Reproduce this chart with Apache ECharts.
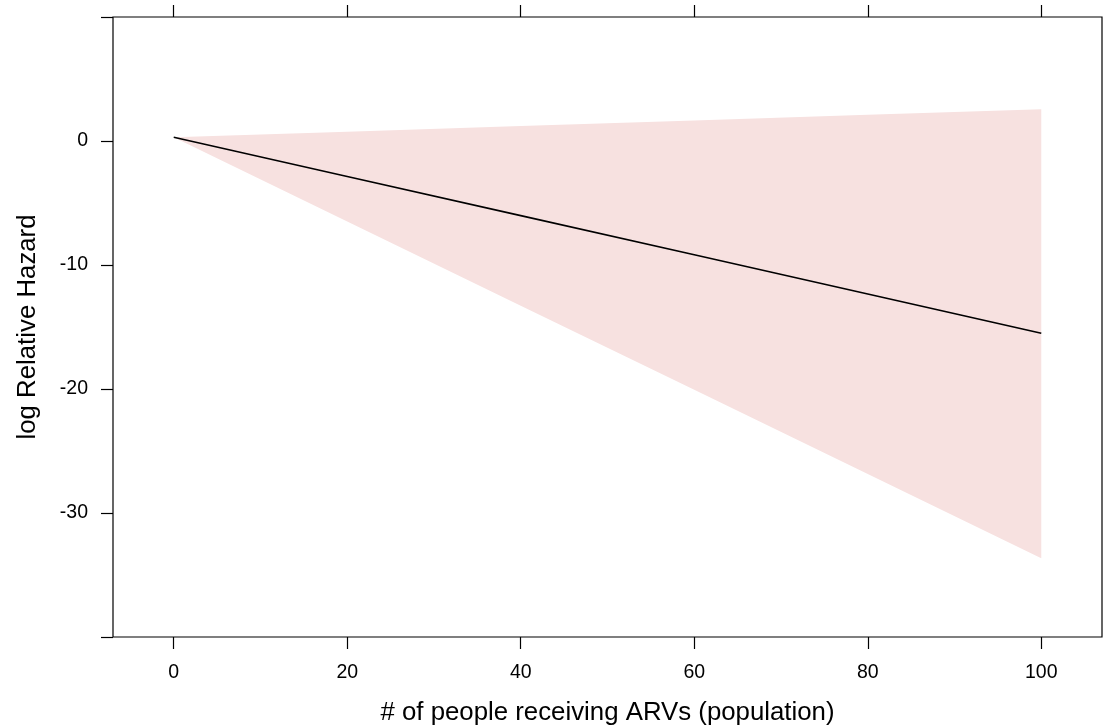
<!DOCTYPE html>
<html>
<head>
<meta charset="utf-8">
<script src="https://cdn.jsdelivr.net/npm/echarts@6/dist/echarts.min.js"></script>
<style>
html,body{margin:0;padding:0;background:#fff;}
#chart{width:1103px;height:728px;}
</style>
</head>
<body>
<div id="chart"></div>
<script>
// Data
const xValues = [0, 20, 40, 60, 80, 100];
const estimate = [0.3, -2.86, -6.02, -9.18, -12.34, -15.5];
const upperCI = [0.3, 0.75, 1.2, 1.66, 2.11, 2.56];
const lowerCI = [0.3, -6.49, -13.28, -20.07, -26.86, -33.65];
const xTicks = [0, 20, 40, 60, 80, 100];
const yTicks = [10, 0, -10, -20, -30, -40];
const yLabels = [0, -10, -20, -30];
const xTitle = '# of people receiving ARVs (population)';
const yTitle = 'log Relative Hazard';

const chart = echarts.init(document.getElementById('chart'), null, {renderer: 'canvas'});
const FONT = 'Liberation Sans, Arial, sans-serif';

const bandPoly = xValues.map((x, i) => [x, upperCI[i]])
  .concat(xValues.map((x, i) => [x, lowerCI[i]]).reverse());

chart.setOption({
  animation: false,
  backgroundColor: '#fff',
  grid: {
    left: 113, right: 1, top: 17, bottom: 91,
    containLabel: false, outerBoundsMode: 'none',
    show: true, borderColor: '#000', borderWidth: 1.2, backgroundColor: 'transparent'
  },
  xAxis: [{
    type: 'value', position: 'bottom', min: -7, max: 107,
    splitLine: {show: false},
    axisLine: {show: false, onZero: false},
    axisTick: {show: true, inside: false, length: 12, customValues: xTicks, lineStyle: {color: '#000', width: 1.2}},
    axisLabel: {show: true, customValues: xTicks, margin: 26, fontSize: 19.5, color: '#000', fontFamily: FONT},
    name: xTitle, nameLocation: 'middle', nameGap: 63,
    nameTextStyle: {fontSize: 25.8, color: '#000', fontFamily: FONT}
  }, {
    type: 'value', position: 'top', min: -7, max: 107,
    splitLine: {show: false},
    axisLine: {show: false, onZero: false},
    axisTick: {show: true, inside: false, length: 12, customValues: xTicks, lineStyle: {color: '#000', width: 1.2}},
    axisLabel: {show: false}
  }],
  yAxis: [{
    type: 'value', position: 'left', min: -40, max: 10,
    splitLine: {show: false},
    axisLine: {show: false, onZero: false},
    axisTick: {show: true, inside: false, length: 12, customValues: yTicks, lineStyle: {color: '#000', width: 1.2}},
    axisLabel: {show: true, customValues: yLabels, margin: 25, fontSize: 19.5, color: '#000', fontFamily: FONT},
    name: yTitle, nameLocation: 'middle', nameGap: 72, nameRotate: 90,
    nameTextStyle: {fontSize: 25.8, color: '#000', fontFamily: FONT}
  }],
  series: [{
    type: 'custom',
    xAxisIndex: 0, yAxisIndex: 0,
    data: [0],
    silent: true,
    renderItem: function (params, api) {
      const pts = bandPoly.map(p => api.coord(p));
      return {
        type: 'polygon',
        shape: {points: pts},
        style: {fill: '#f7e1e0', stroke: null}
      };
    },
    z: 1
  }, {
    type: 'line',
    xAxisIndex: 0, yAxisIndex: 0,
    data: xValues.map((x, i) => [x, estimate[i]]),
    showSymbol: false,
    lineStyle: {color: '#000', width: 1.6},
    z: 2
  }]
});
</script>
</body>
</html>
